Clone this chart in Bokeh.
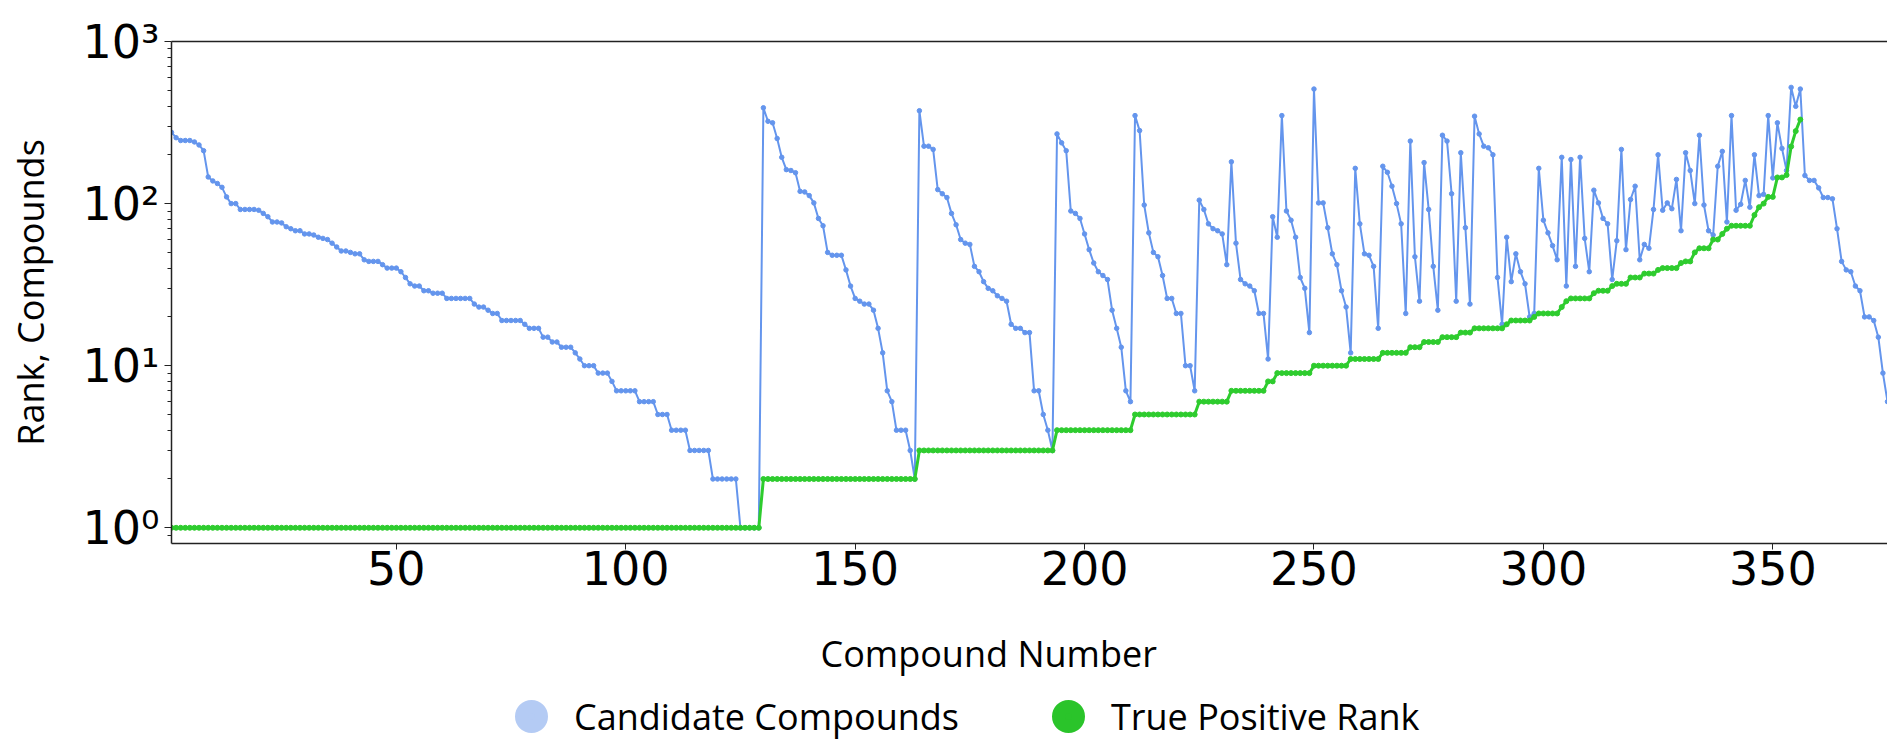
from bokeh.plotting import figure
from bokeh.layouts import column
from bokeh.models import FixedTicker, LinearAxis, Legend, LegendItem, Range1d
from bokeh.embed import file_html
from bokeh.resources import INLINE

# ---------------- data ----------------
candidate_compounds = [
    275, 255, 245, 245, 245, 240, 230, 212, 146, 138, 133, 126, 110, 100, 100, 92, 92, 92, 92, 91,
    87, 83, 77, 77, 76, 72, 70, 68, 68, 65, 65, 64, 62, 61, 60, 57, 54, 51, 51, 50,
    49, 49, 45, 44, 44, 44, 42, 40, 40, 40, 38, 35, 32, 31, 31, 29, 29, 28, 28, 28,
    26, 26, 26, 26, 26, 26, 24, 23, 23, 22, 21, 21, 19, 19, 19, 19, 19, 18, 17, 17,
    17, 15, 15, 14, 14, 13, 13, 13, 12, 11, 10, 10, 10, 9, 9, 9, 8, 7, 7, 7,
    7, 7, 6, 6, 6, 6, 5, 5, 5, 4, 4, 4, 4, 3, 3, 3, 3, 3, 2, 2,
    2, 2, 2, 2, 1, 1, 1, 1, 1, 390, 322, 315, 252, 193, 162, 160, 155, 119, 118, 112,
    101, 81, 73, 50, 48, 48, 48, 39, 31, 26, 25, 24, 24, 22, 17, 12, 7, 6, 4, 4,
    4, 3, 2, 374, 226, 226, 216, 122, 115, 109, 87, 74, 60, 57, 56, 41, 38, 33, 30, 29,
    27, 26, 25, 18, 17, 17, 16, 16, 7, 7, 5, 4, 3, 269, 237, 212, 90, 87, 81, 65,
    52, 43, 38, 36, 34, 22, 17, 13, 7, 6, 349, 282, 98, 66, 50, 47, 36, 26, 26, 21,
    21, 10, 10, 7, 105, 92, 75, 70, 68, 65, 42, 181, 57, 34, 32, 31, 29, 21, 21, 11,
    83, 62, 349, 90, 79, 62, 35, 30, 16, 509, 101, 101, 71, 49, 42, 29, 23, 12, 165, 75,
    49, 48, 41, 17, 170, 156, 128, 100, 75, 21, 243, 47, 25, 179, 92, 41, 22, 264, 243, 115,
    25, 206, 71, 24, 346, 269, 226, 221, 200, 35, 18, 62, 33, 49, 38, 32, 20, 21, 165, 79,
    66, 55, 45, 193, 31, 187, 41, 193, 61, 38, 121, 101, 81, 75, 34, 59, 216, 52, 106, 128,
    45, 56, 53, 92, 200, 91, 101, 93, 141, 68, 206, 160, 100, 264, 98, 68, 64, 170, 210, 77,
    349, 91, 99, 139, 95, 200, 112, 114, 349, 144, 315, 219, 160, 521, 398, 509, 149, 139, 139, 125,
    109, 109, 107, 70, 44, 39, 38, 31, 29, 20, 20, 19, 15, 9, 6,
]

true_positive_rank = [
    1, 1, 1, 1, 1, 1, 1, 1, 1, 1, 1, 1, 1, 1, 1, 1, 1, 1, 1, 1,
    1, 1, 1, 1, 1, 1, 1, 1, 1, 1, 1, 1, 1, 1, 1, 1, 1, 1, 1, 1,
    1, 1, 1, 1, 1, 1, 1, 1, 1, 1, 1, 1, 1, 1, 1, 1, 1, 1, 1, 1,
    1, 1, 1, 1, 1, 1, 1, 1, 1, 1, 1, 1, 1, 1, 1, 1, 1, 1, 1, 1,
    1, 1, 1, 1, 1, 1, 1, 1, 1, 1, 1, 1, 1, 1, 1, 1, 1, 1, 1, 1,
    1, 1, 1, 1, 1, 1, 1, 1, 1, 1, 1, 1, 1, 1, 1, 1, 1, 1, 1, 1,
    1, 1, 1, 1, 1, 1, 1, 1, 1, 2, 2, 2, 2, 2, 2, 2, 2, 2, 2, 2,
    2, 2, 2, 2, 2, 2, 2, 2, 2, 2, 2, 2, 2, 2, 2, 2, 2, 2, 2, 2,
    2, 2, 2, 3, 3, 3, 3, 3, 3, 3, 3, 3, 3, 3, 3, 3, 3, 3, 3, 3,
    3, 3, 3, 3, 3, 3, 3, 3, 3, 3, 3, 3, 3, 4, 4, 4, 4, 4, 4, 4,
    4, 4, 4, 4, 4, 4, 4, 4, 4, 4, 5, 5, 5, 5, 5, 5, 5, 5, 5, 5,
    5, 5, 5, 5, 6, 6, 6, 6, 6, 6, 6, 7, 7, 7, 7, 7, 7, 7, 7, 8,
    8, 9, 9, 9, 9, 9, 9, 9, 9, 10, 10, 10, 10, 10, 10, 10, 10, 11, 11, 11,
    11, 11, 11, 11, 12, 12, 12, 12, 12, 12, 13, 13, 13, 14, 14, 14, 14, 15, 15, 15,
    15, 16, 16, 16, 17, 17, 17, 17, 17, 17, 17, 18, 19, 19, 19, 19, 19, 20, 21, 21,
    21, 21, 21, 23, 25, 26, 26, 26, 26, 26, 28, 29, 29, 29, 31, 32, 32, 32, 35, 35,
    35, 37, 37, 37, 39, 40, 40, 40, 40, 43, 44, 44, 50, 53, 53, 53, 60, 60, 65, 70,
    73, 73, 73, 73, 73, 85, 95, 100, 110, 110, 145, 145, 150, 225, 280, 330,
]

compound_number = list(range(1, len(candidate_compounds) + 1))
true_positive_number = list(range(1, len(true_positive_rank) + 1))

x_ticks = [50, 100, 150, 200, 250, 300, 350]
y_ticks = [1, 10, 100, 1000]
y_tick_labels = ["10\u2070", "10\u00b9", "10\u00b2", "10\u00b3"]
y_minor_ticks = [0.9, 2, 3, 4, 5, 6, 7, 8, 9, 20, 30, 40, 50, 60, 70, 80, 90,
                 200, 300, 400, 500, 600, 700, 800, 900]
series_labels = ["Candidate Compounds", "True Positive Rank"]
x_axis_title = "Compound Number"
y_axis_title = "Rank, Compounds"
no_point = [float("nan")]   # legend swatch renderers carry no visible point

BLUE = "#6495ED"
GREEN = "#2ECC2E"
BLUE_LEGEND = "#B4CBF4"
GREEN_LEGEND = "#2AC42A"
AXIS = "#222222"
TEXT_FONT = "Open Sans"

# ---------------- main figure ----------------
p = figure(width=1887, height=620,
           x_range=Range1d(1, 375), y_range=Range1d(0.8, 1000),
           y_axis_type="log", output_backend="svg", toolbar_location=None,
           min_border_left=171, min_border_right=0,
           min_border_top=41, min_border_bottom=77)
p.outline_line_color = None
p.grid.visible = False
p.background_fill_color = "white"
p.border_fill_color = "white"

p.line(compound_number, candidate_compounds, line_color=BLUE, line_width=2)
p.scatter(compound_number, candidate_compounds, size=4.5, marker="circle",
          fill_color=BLUE, line_color=BLUE)
p.line(true_positive_number, true_positive_rank, line_color=GREEN, line_width=3)
p.scatter(true_positive_number, true_positive_rank, size=5, marker="circle",
          fill_color=GREEN, line_color=GREEN)

xa = p.xaxis[0]
xa.ticker = FixedTicker(ticks=x_ticks)
xa.major_label_text_font = "DejaVu Sans"
xa.major_label_text_font_size = "46px"
xa.major_label_text_color = "black"
xa.axis_line_color = AXIS
xa.axis_line_width = 1.5
xa.major_tick_line_color = AXIS
xa.major_tick_out = 6
xa.major_tick_in = 0
xa.minor_tick_line_color = None
xa.major_label_standoff = 1

ya = p.yaxis[0]
ya.ticker = FixedTicker(ticks=y_ticks, minor_ticks=y_minor_ticks)
ya.major_label_overrides = dict(zip(y_ticks, y_tick_labels))
ya.major_label_text_font = "DejaVu Sans"
ya.major_label_text_font_size = "46px"
ya.major_label_text_color = "black"
ya.axis_line_color = AXIS
ya.axis_line_width = 1.5
ya.major_tick_line_color = AXIS
ya.minor_tick_line_color = AXIS
ya.major_tick_out = 7
ya.major_tick_in = 0
ya.minor_tick_out = 4
ya.minor_tick_in = 0
ya.major_label_standoff = 5
ya.axis_label = y_axis_title
ya.axis_label_text_font = TEXT_FONT
ya.axis_label_text_font_size = "36px"
ya.axis_label_text_font_style = "normal"
ya.axis_label_text_color = "black"
ya.axis_label_standoff = 25

top_axis = LinearAxis(ticker=FixedTicker(ticks=[]),
                      axis_line_color=AXIS, axis_line_width=1.5,
                      major_tick_line_color=None, minor_tick_line_color=None,
                      major_tick_out=0, major_tick_in=0,
                      minor_tick_out=0, minor_tick_in=0,
                      major_label_standoff=0)
p.add_layout(top_axis, "above")

# ---------------- strip below: x-axis title + legend ----------------
pl = figure(width=1887, height=124, x_range=Range1d(0, 1), y_range=Range1d(0, 1),
            title=x_axis_title, output_backend="svg", toolbar_location=None,
            x_axis_location=None, y_axis_location=None, min_border=0)
pl.title.align = "left"
pl.title.offset = 649
pl.title.text_font = TEXT_FONT
pl.title.text_font_size = "36px"
pl.title.text_font_style = "normal"
pl.title.text_color = "black"
pl.title.standoff = 12
pl.outline_line_color = None
pl.grid.visible = False
pl.background_fill_color = "white"
pl.border_fill_color = "white"

leg_blue = pl.scatter(x=no_point, y=no_point, size=10, marker="circle", line_width=13,
                      fill_color=BLUE_LEGEND, line_color=BLUE_LEGEND)
leg_green = pl.scatter(x=no_point, y=no_point, size=10, marker="circle", line_width=13,
                       fill_color=GREEN_LEGEND, line_color=GREEN_LEGEND)

legend = Legend(items=[LegendItem(label=series_labels[0], renderers=[leg_blue]),
                       LegendItem(label=series_labels[1], renderers=[leg_green])],
                orientation="horizontal", location=(335, 3),
                glyph_width=50, glyph_height=50, label_standoff=18,
                spacing=84, padding=0, margin=0,
                label_text_font=TEXT_FONT, label_text_font_size="36px",
                label_text_color="black",
                border_line_color=None, background_fill_alpha=0)
pl.add_layout(legend)

layout = column(p, pl, spacing=0)
open("out.html", "w").write(file_html(layout, INLINE))
